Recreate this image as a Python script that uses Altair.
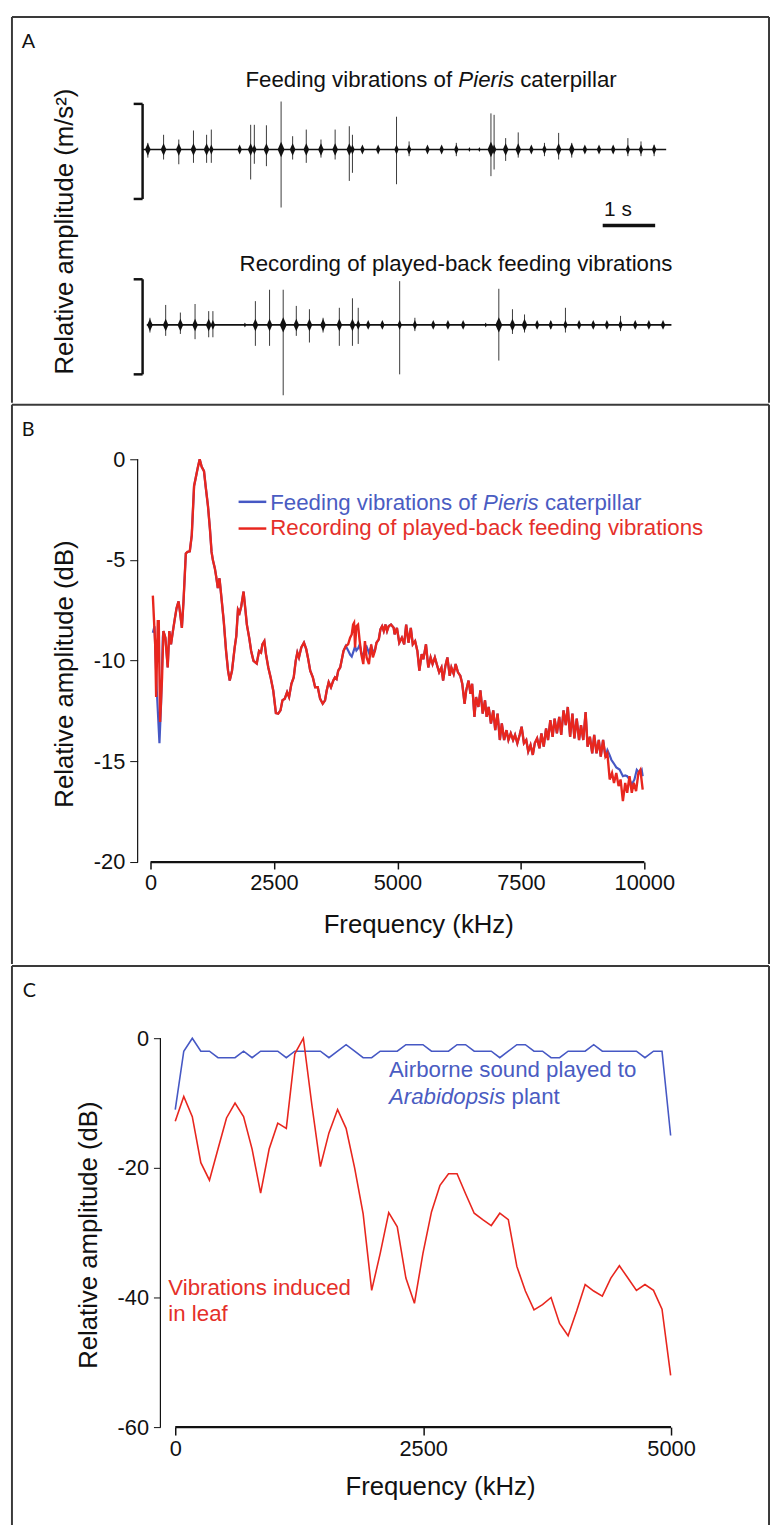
import altair as alt
import pandas as pd

FONT = "Liberation Sans"
LETTER_FONT = "Lato"
BLUE = "#4658c4"
RED = "#e8261e"
BLUE_TXT = "#4a5cc2"
RED_TXT = "#e5302a"
INK = "#111111"

W = 765
HA, HB, HC = 390, 565, 565

# ---------------- Panel A: waveform bursts (time in s, amplitude in bracket units) ----------------
top_t = [0.10, 0.40, 0.69, 0.97, 1.22, 1.31, 1.85, 2.06, 2.13, 2.36, 2.64, 2.86, 3.12, 3.40, 3.67, 3.94, 4.00,
         4.19, 4.49, 4.84, 5.08, 5.43, 5.70, 5.98, 6.23, 6.42, 6.64, 6.70, 6.92, 7.16, 7.41, 7.66, 7.93, 8.18,
         8.43, 8.70, 8.97, 9.25, 9.50, 9.75]
top_up = [0.14, 0.31, 0.21, 0.40, 0.31, 0.42, 0.04, 0.52, 0.52, 0.51, 1.01, 0.28, 0.42, 0.21, 0.42, 0.49, 0.31,
          0.06, 0.05, 0.69, 0.17, 0.06, 0.05, 0.14, 0.03, 0.03, 0.76, 0.73, 0.24, 0.36, 0.07, 0.14, 0.35, 0.14,
          0.06, 0.06, 0.07, 0.24, 0.17, 0.10]
top_down = [0.17, 0.21, 0.31, 0.28, 0.28, 0.28, 0.04, 0.63, 0.30, 0.35, 1.22, 0.21, 0.28, 0.17, 0.21, 0.66, 0.49,
            0.06, 0.05, 0.73, 0.14, 0.06, 0.05, 0.14, 0.03, 0.03, 0.56, 0.42, 0.24, 0.17, 0.07, 0.14, 0.21, 0.17,
            0.06, 0.06, 0.07, 0.14, 0.14, 0.14]
top_env = [0.08, 0.08, 0.08, 0.08, 0.08, 0.07, 0.05, 0.09, 0.06, 0.09, 0.13, 0.10, 0.09, 0.08, 0.08, 0.10, 0.06,
           0.07, 0.06, 0.05, 0.07, 0.06, 0.05, 0.07, 0.03, 0.03, 0.12, 0.06, 0.09, 0.09, 0.06, 0.07, 0.08, 0.08,
           0.06, 0.06, 0.06, 0.07, 0.07, 0.06]

bot_t = [0.14, 0.44, 0.72, 1.00, 1.26, 1.34, 1.95, 2.15, 2.42, 2.68, 2.93, 3.18, 3.44, 3.75, 4.00, 4.11, 4.30,
         4.57, 4.90, 5.19, 5.54, 5.82, 6.11, 6.54, 6.79, 7.05, 7.28, 7.52, 7.78, 8.06, 8.32, 8.59, 8.85, 9.11,
         9.39, 9.65, 9.92]
bot_up = [0.15, 0.42, 0.26, 0.44, 0.29, 0.29, 0.03, 0.50, 0.74, 0.74, 0.40, 0.33, 0.15, 0.36, 0.56, 0.36, 0.06,
          0.06, 0.92, 0.15, 0.05, 0.05, 0.05, 0.03, 0.76, 0.33, 0.22, 0.07, 0.08, 0.36, 0.06, 0.06, 0.06, 0.19,
          0.06, 0.06, 0.05]
bot_down = [0.16, 0.23, 0.19, 0.30, 0.26, 0.26, 0.03, 0.44, 0.44, 1.48, 0.23, 0.37, 0.16, 0.44, 0.44, 0.40, 0.06,
            0.06, 1.04, 0.13, 0.05, 0.05, 0.05, 0.03, 0.75, 0.19, 0.16, 0.07, 0.08, 0.16, 0.06, 0.06, 0.06, 0.13,
            0.06, 0.06, 0.05]
bot_env = [0.08, 0.08, 0.08, 0.08, 0.08, 0.06, 0.03, 0.08, 0.08, 0.12, 0.10, 0.09, 0.08, 0.08, 0.10, 0.06, 0.07,
           0.06, 0.06, 0.07, 0.05, 0.05, 0.05, 0.03, 0.12, 0.08, 0.08, 0.06, 0.07, 0.07, 0.06, 0.06, 0.06, 0.07,
           0.06, 0.06, 0.05]

trace_names = ["top", "bottom"]
trace_start = [0.0, 0.08]
trace_end = [9.98, 10.08]

# ---------------- Panel B: spectra (Hz, dB) ----------------
b_red_f_lo = [47, 94, 114, 147, 167, 194, 234, 261, 301, 348, 381, 415, 448, 495, 528, 568, 595, 635, 668, 715,
              749, 795, 835, 882, 916, 956, 996, 1036, 1083, 1116, 1163, 1203, 1236, 1263, 1303, 1330, 1363, 1397,
              1437, 1483, 1530, 1570, 1604, 1650, 1704, 1737, 1771, 1804, 1837, 1884, 1918, 1951, 1998, 2038, 2085,
              2151, 2198, 2238, 2265, 2305, 2338, 2385, 2432, 2485, 2539, 2586, 2632, 2672, 2719, 2766, 2806, 2853,
              2900, 2940, 2973, 3006, 3053, 3107, 3153, 3187, 3234, 3287, 3334, 3387, 3434, 3487, 3534, 3568, 3608,
              3654, 3701, 3735, 3768, 3801, 3841, 3875, 3908, 3955, 4002, 4042, 4075, 4102, 4122, 4142, 4169, 4202,
              4236, 4269, 4309, 4342, 4376, 4423, 4469, 4503, 4543, 4576, 4623, 4656, 4690, 4723, 4757, 4790, 4823,
              4870, 4924]
b_red_db_lo = [-6.77, -9.19, -11.81, -8.04, -8.04, -13.04, -10.83, -8.53, -8.86, -10.34, -8.53, -9.19, -8.62,
               -7.88, -7.39, -7.06, -7.55, -8.37, -7.06, -4.68, -4.60, -4.57, -3.78, -1.33, -0.92, -0.43, 0.0,
               -0.38, -0.59, -1.33, -2.31, -3.46, -4.60, -5.01, -5.42, -5.83, -6.40, -5.91, -6.90, -8.04, -9.52,
               -10.50, -10.99, -10.50, -9.35, -8.78, -7.47, -7.63, -7.31, -6.57, -7.39, -8.21, -8.86, -9.52, -10.01,
               -10.14, -9.52, -9.60, -9.19, -9.03, -9.68, -10.34, -10.83, -11.48, -12.60, -12.63, -12.47, -11.97,
               -11.89, -11.56, -11.81, -11.15, -10.83, -10.01, -9.60, -9.84, -9.35, -9.11, -9.43, -9.84, -10.50,
               -10.83, -11.32, -11.32, -11.89, -12.14, -11.97, -11.48, -11.07, -11.32, -10.99, -10.83, -10.91,
               -10.50, -10.34, -9.93, -9.52, -9.27, -9.19, -8.86, -8.70, -8.21, -8.12, -9.35, -8.29, -8.21, -9.03,
               -9.68, -10.17, -9.03, -9.84, -10.17, -9.19, -9.84, -9.52, -9.11, -8.94, -8.45, -8.29, -8.53, -8.21,
               -8.53, -8.29, -8.21, -8.37]
b_red_f_hi = [4943, 4990, 5037, 5090, 5137, 5177, 5224, 5271, 5311, 5358, 5404, 5444, 5491, 5525, 5578, 5625, 5672,
              5712, 5758, 5805, 5845, 5892, 5925, 5972, 6012, 6059, 6092, 6139, 6179, 6226, 6273, 6313, 6360, 6393,
              6440, 6480, 6513, 6560, 6593, 6640, 6680, 6727, 6774, 6807, 6847, 6894, 6941, 6981, 7028, 7074, 7114,
              7161, 7208, 7248, 7295, 7342, 7382, 7428, 7475, 7515, 7562, 7609, 7649, 7696, 7742, 7782, 7829, 7876,
              7916, 7963, 8010, 8050, 8096, 8143, 8183, 8230, 8277, 8317, 8364, 8410, 8450, 8497, 8544, 8584, 8631,
              8678, 8718, 8764, 8811, 8851, 8898, 8945, 8985, 9032, 9078, 9118, 9165, 9212, 9252, 9299, 9346, 9386,
              9432, 9479, 9519, 9566, 9613, 9653, 9700, 9746, 9786, 9833, 9880, 9920, 9967]
b_red_db_hi = [-8.70, -8.37, -9.11, -8.86, -9.19, -8.21, -9.11, -8.37, -9.19, -9.03, -9.52, -10.50, -9.68, -9.93,
               -9.19, -10.34, -9.84, -10.17, -9.84, -10.25, -10.58, -10.34, -10.99, -10.25, -9.84, -10.75, -10.34,
               -10.66, -10.17, -10.58, -10.75, -11.15, -12.14, -11.48, -10.99, -11.65, -11.15, -12.79, -11.81,
               -12.30, -11.48, -12.63, -11.97, -12.79, -12.30, -13.12, -12.47, -13.45, -12.63, -13.94, -13.12,
               -13.94, -13.45, -13.94, -13.61, -13.94, -13.69, -14.10, -13.69, -13.28, -14.10, -13.94, -14.51,
               -14.19, -14.68, -14.10, -13.86, -14.35, -13.61, -14.27, -13.37, -13.94, -12.96, -13.78, -12.88,
               -13.61, -12.79, -13.69, -12.47, -13.20, -12.30, -13.78, -12.63, -13.86, -12.88, -13.94, -13.20,
               -13.94, -12.55, -14.27, -13.78, -14.60, -13.69, -14.60, -13.94, -14.76, -13.94, -14.76, -14.60,
               -15.90, -15.58, -16.07, -15.58, -16.23, -15.90, -16.97, -16.07, -16.56, -15.74, -16.56, -16.07,
               -16.48, -15.58, -15.42, -16.40]
# where the blue (caterpillar) spectrum departs from the red one
b_blue_f_a = [47, 81, 127, 181, 214, 248]
b_blue_db_a = [-8.62, -8.29, -11.48, -14.10, -12.14, -8.86]
b_blue_f_b = [4002, 4042, 4075, 4102, 4142, 4169, 4202, 4236, 4269, 4309, 4342, 4376, 4423, 4469, 4503]
b_blue_db_b = [-9.50, -9.70, -9.80, -9.60, -9.30, -9.50, -9.40, -9.20, -9.60, -9.80, -9.40, -9.30, -9.60, -9.30, -9.50]
b_blue_f_c = [9252, 9299, 9332, 9399, 9432, 9499, 9566, 9613, 9653, 9700, 9746, 9800, 9847, 9900, 9947, 9967]
b_blue_db_c = [-14.44, -14.70, -14.92, -15.17, -15.30, -15.41, -15.74, -15.70, -15.74, -15.90, -16.15, -15.90,
               -15.42, -15.58, -15.42, -15.74]

# ---------------- Panel C: spectra (Hz, dB) ----------------
c_f = [0, 86, 172, 258, 345, 431, 517, 603, 689, 775, 861, 947, 1034, 1120, 1206, 1292, 1378, 1464, 1550, 1637,
       1723, 1809, 1895, 1981, 2067, 2153, 2239, 2326, 2412, 2498, 2584, 2670, 2756, 2842, 2928, 3015, 3101, 3187,
       3273, 3359, 3445, 3531, 3618, 3704, 3790, 3876, 3962, 4048, 4134, 4220, 4307, 4393, 4479, 4565, 4651, 4737,
       4823, 4909, 4996]
c_blue = [-11, -2, 0, -2, -2, -3, -3, -3, -2, -3, -2, -2, -2, -3, -2, -2, -2, -2, -3, -2, -1, -2, -3, -3, -2, -2,
          -2, -1, -1, -1, -2, -2, -2, -1, -1, -2, -2, -2, -3, -2, -1, -1, -2, -2, -3, -3, -2, -2, -2, -1, -2, -2,
          -2, -2, -2, -3, -2, -2, -15]
c_red = [-12.8, -9.0, -12.1, -19.2, -21.9, -17.1, -12.3, -10.0, -12.1, -17.1, -23.9, -17.1, -13.1, -13.9, -2.4,
         0.0, -10.3, -19.8, -14.6, -11.0, -13.9, -20.0, -27.1, -38.9, -33.2, -26.9, -29.1, -37.0, -40.9, -33.2,
         -26.8, -22.7, -20.9, -20.9, -24.0, -27.0, -28.0, -28.9, -27.0, -28.0, -35.2, -39.0, -41.9, -41.1, -40.0,
         -44.0, -45.9, -42.1, -38.0, -39.0, -39.8, -37.0, -35.1, -37.0, -38.9, -38.0, -38.9, -41.8, -52.0]

b_ticks_x = [0, 2500, 5000, 7500, 10000]
b_ticks_y = [0, -5, -10, -15, -20]
c_ticks_x = [0, 2500, 5000]
c_ticks_y = [0, -20, -40, -60]

one = pd.DataFrame({"k": [0]})


def txt(s, x, y, size=22.5, color=INK, italic=False, align="left", angle=None, font=FONT):
    kw = dict(text=s, fontSize=size, color=color, align=align, baseline="middle", font=font)
    if italic:
        kw["fontStyle"] = "italic"
    if angle is not None:
        kw["angle"] = angle
    return alt.Chart(one).mark_text(**kw).encode(x=alt.value(x), y=alt.value(y))


def borders(h):
    c = alt.Chart(one)
    s = dict(color="#3a3a3a", strokeWidth=2)
    return [
        c.mark_rule(**s).encode(x=alt.value(0), y=alt.value(0), y2=alt.value(h)),
        c.mark_rule(**s).encode(x=alt.value(W), y=alt.value(0), y2=alt.value(h)),
        c.mark_rule(**s).encode(x=alt.value(0), x2=alt.value(W), y=alt.value(0)),
    ]


def axis(values, offset, size, ticklen, tickw, pad):
    return alt.Axis(values=values, offset=offset, domain=False, grid=False, ticks=True, tickSize=ticklen,
                    tickWidth=tickw, tickColor=INK, labelFont=FONT, labelFontSize=size, labelColor=INK,
                    labelPadding=pad, labelExpr="'' + datum.value", labelOverlap=False, labelFlush=False,
                    title=None)


# ---------------- Panel A ----------------
rows = []
for name, ts, ups, dns, envs in [("top", top_t, top_up, top_down, top_env),
                                 ("bottom", bot_t, bot_up, bot_down, bot_env)]:
    for t, u, d, e in zip(ts, ups, dns, envs):
        rows.append({"trace": name, "t": t, "up": u, "down": d, "env": e})
a_df = pd.DataFrame(rows)
BASE = {"top": 0.0, "bottom": -3.69}
a_df["base"] = a_df["trace"].map(BASE)
a_df["yu"] = a_df["base"] + a_df["up"]
a_df["yd"] = a_df["base"] - a_df["down"]
a_line = pd.DataFrame({"trace": trace_names, "t0": trace_start, "t1": trace_end})
a_line["base"] = a_line["trace"].map(BASE)
a_line["lo"] = a_line["base"] - 1.04
a_line["hi"] = a_line["base"] + 0.96

xA = alt.Scale(domain=[-2.49, 11.94], nice=False, zero=False)
yA = alt.Scale(domain=[-5.33, 2.79], nice=False, zero=False)
DIAMOND = "M0,-1L0.45,0L0,1L-0.45,0Z"

spikes = alt.Chart(a_df).mark_rule(color="#3a3a3a", strokeWidth=1).encode(
    x=alt.X("t:Q", scale=xA, axis=None), y=alt.Y("yu:Q", scale=yA, axis=None), y2="yd:Q")


def diamonds(lo, hi, size):
    return alt.Chart(a_df).transform_filter(
        (alt.datum.env >= lo) & (alt.datum.env < hi)
    ).mark_point(shape=DIAMOND, filled=True, color=INK, opacity=1, size=size).encode(
        x=alt.X("t:Q", scale=xA, axis=None), y=alt.Y("base:Q", scale=yA, axis=None))


baseline = alt.Chart(a_line).mark_rule(color=INK, strokeWidth=1.6).encode(
    x=alt.X("t0:Q", scale=xA, axis=None), x2="t1:Q", y=alt.Y("base:Q", scale=yA, axis=None))
bs = dict(color=INK, strokeWidth=2.5)
brackets = [
    alt.Chart(a_line).mark_rule(**bs).encode(x=alt.datum(0), y="lo:Q", y2="hi:Q"),
    alt.Chart(a_line).mark_rule(**bs).encode(x=alt.datum(-0.17), x2=alt.datum(0), y="lo:Q"),
    alt.Chart(a_line).mark_rule(**bs).encode(x=alt.datum(-0.17), x2=alt.datum(0), y="hi:Q"),
]
scalebar = alt.Chart(one).mark_rule(color=INK, strokeWidth=3.5).encode(
    x=alt.datum(8.77), x2=alt.datum(9.77), y=alt.datum(-1.60))
scalelabel = alt.Chart(one).mark_text(text="1 s", fontSize=21, font=FONT, color=INK, align="center",
                                      baseline="middle").encode(x=alt.datum(9.06), y=alt.datum(-1.27))

pA = alt.layer(
    baseline, spikes,
    diamonds(0.0, 0.045, 25), diamonds(0.045, 0.075, 100), diamonds(0.075, 0.105, 160), diamonds(0.105, 1.0, 240),
    *brackets, scalebar, scalelabel,
    txt("A", 10, 25, size=20, font=LETTER_FONT),
    txt("Feeding vibrations of", 236, 64),
    txt("Pieris", 451.1, 64, italic=True),
    txt("caterpillar", 513.6, 64),
    txt("Recording of played-back feeding vibrations", 230, 250),
    txt("Relative amplitude (m/s²)", 54, 217, size=26, align="center", angle=270),
    *borders(HA)
).properties(width=W, height=HA)

# ---------------- Panel B ----------------
red_b = pd.DataFrame({"f": b_red_f_lo + b_red_f_hi, "db": b_red_db_lo + b_red_db_hi})
overrides = pd.DataFrame({"f": b_blue_f_a + b_blue_f_b + b_blue_f_c, "db": b_blue_db_a + b_blue_db_b + b_blue_db_c})
keep = ~((red_b.f <= 255) | ((red_b.f >= 4000) & (red_b.f <= 4510)) | (red_b.f >= 9250))
blue_b = pd.concat([red_b[keep], overrides]).sort_values("f").reset_index(drop=True)

xB = alt.Scale(domain=[-2806, 12525], nice=False, zero=False)
yB = alt.Scale(domain=[-25.06, 2.70], nice=False, zero=False)
axBx = axis(b_ticks_x, -103, 22, 7, 1.5, 4)
axBy = axis(b_ticks_y, -127, 22, 8, 1, 5)

blue_line_b = alt.Chart(blue_b).mark_line(color=BLUE, strokeWidth=2.2).encode(
    x=alt.X("f:Q", scale=xB, axis=axBx), y=alt.Y("db:Q", scale=yB, axis=axBy))
red_line_b = alt.Chart(red_b).mark_line(color=RED, strokeWidth=2.4).encode(
    x=alt.X("f:Q", scale=xB, axis=axBx), y=alt.Y("db:Q", scale=yB, axis=axBy))
b_xline = alt.Chart(one).mark_rule(color=INK, strokeWidth=2.2).encode(
    x=alt.datum(0), x2=alt.datum(10000), y=alt.datum(-20))
b_yline = alt.Chart(one).mark_rule(color=INK, strokeWidth=1.2).encode(
    x=alt.value(127), y=alt.datum(0), y2=alt.datum(-20))
leg_blue = alt.Chart(one).mark_rule(color=BLUE, strokeWidth=2.5).encode(
    x=alt.value(229), x2=alt.value(257), y=alt.value(98))
leg_red = alt.Chart(one).mark_rule(color=RED, strokeWidth=2.5).encode(
    x=alt.value(229), x2=alt.value(257), y=alt.value(125))

pB = alt.layer(
    blue_line_b, red_line_b, b_xline, b_yline, leg_blue, leg_red,
    txt("B", 10, 25, size=20, font=LETTER_FONT),
    txt("Feeding vibrations of", 261, 99, color=BLUE_TXT),
    txt("Pieris", 476.1, 99, color=BLUE_TXT, italic=True),
    txt("caterpillar", 538.6, 99, color=BLUE_TXT),
    txt("Recording of played-back feeding vibrations", 261, 125, color=RED_TXT),
    txt("Relative amplitude (dB)", 54, 272, size=26, align="center", angle=270),
    txt("Frequency (kHz)", 411, 526, size=26, align="center"),
    *borders(HB)
).properties(width=W, height=HB)

# ---------------- Panel C ----------------
c_df = pd.DataFrame({"f": c_f, "airborne": c_blue, "leaf": c_red})
xC = alt.Scale(domain=[-1646.7, 5988], nice=False, zero=False)
yC = alt.Scale(domain=[-75.11, 11.15], nice=False, zero=False)
axCx = axis(c_ticks_x, -99, 22, 8, 1.5, 4)
axCy = axis(c_ticks_y, -150, 22, 7, 1, 5)

blue_line_c = alt.Chart(c_df).mark_line(color=BLUE, strokeWidth=1.6).encode(
    x=alt.X("f:Q", scale=xC, axis=axCx), y=alt.Y("airborne:Q", scale=yC, axis=axCy))
red_line_c = alt.Chart(c_df).mark_line(color=RED, strokeWidth=1.6).encode(
    x=alt.X("f:Q", scale=xC, axis=axCx), y=alt.Y("leaf:Q", scale=yC, axis=axCy))
c_xline = alt.Chart(one).mark_rule(color=INK, strokeWidth=2.2).encode(
    x=alt.datum(0), x2=alt.datum(5000), y=alt.datum(-60))
c_yline = alt.Chart(one).mark_rule(color=INK, strokeWidth=1.2).encode(
    x=alt.value(150), y=alt.datum(0), y2=alt.datum(-60))

pC = alt.layer(
    blue_line_c, red_line_c, c_xline, c_yline,
    txt("C", 11, 25, size=20, font=LETTER_FONT),
    txt("Airborne sound played to", 381, 105, color=BLUE_TXT),
    txt("Arabidopsis", 381, 132, color=BLUE_TXT, italic=True),
    txt("plant", 504.8, 132, color=BLUE_TXT),
    txt("Vibrations induced", 158, 326, color=RED_TXT),
    txt("in leaf", 158, 352, color=RED_TXT),
    txt("Relative amplitude (dB)", 78, 272, size=26, align="center", angle=270),
    txt("Frequency (kHz)", 433, 527, size=26, align="center"),
    *borders(HC)
).properties(width=W, height=HC)

chart = alt.vconcat(pA, pB, pC, spacing=0).properties(
    padding={"left": 3, "top": 0, "right": 0, "bottom": 0}
).configure_view(stroke=None)

chart.save("out.html", embed_options={"renderer": "svg", "actions": False})
